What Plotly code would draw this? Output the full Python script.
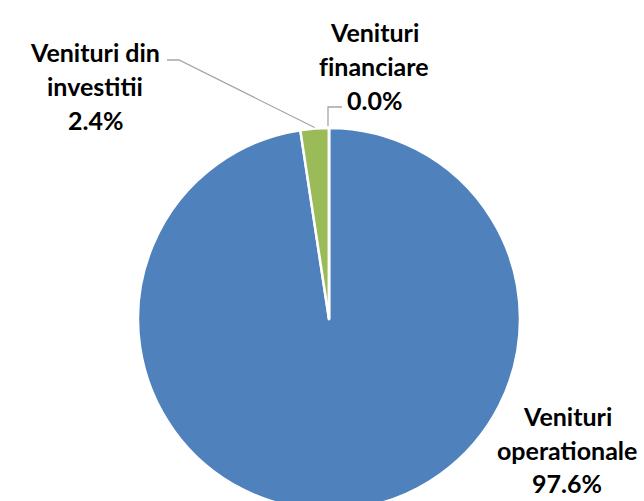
import math
import plotly.graph_objects as go

# ---- data ----
labels = ["Venituri operationale", "Venituri din investitii", "Venituri financiare"]
values = [97.6, 2.4, 0.0]
colors = ["#4F81BD", "#9BBB59", "#C0504D"]
label_lines = [
    ["Venituri", "operationale", "97.6%"],
    ["Venituri din", "investitii", "2.4%"],
    ["Venituri", "f\u200cinanciare", "0.0%"],
]

# ---- layout geometry (pixels) ----
W, H = 644, 520
CX, CY, R = 329, 319, 191
FONT = "Lato"
FS = 25
TEXT_COLOR = "#000000"


def px(x):
    return x / W


def py(y):
    return 1 - y / H


fig = go.Figure(
    go.Pie(
        labels=labels,
        values=values,
        sort=False,
        direction="clockwise",
        rotation=0,
        marker=dict(colors=colors, line=dict(color="white", width=2.5)),
        textinfo="none",
        hoverinfo="label+percent",
        showlegend=False,
        domain=dict(x=[px(CX - R), px(CX + R)], y=[py(CY + R), py(CY - R)]),
    )
)

# label text positions (cap-centre of each line, pixels)
label_pos = [
    (567, [415, 449, 482]),
    (95, [51, 85, 119]),
    (374, [31, 65, 99]),
]

annotations = []
for lines, (lx, ys) in zip(label_lines, label_pos):
    for t, yy in zip(lines, ys):
        annotations.append(
            dict(
                x=px(lx), y=py(yy + 1), xref="paper", yref="paper",
                text=t, showarrow=False, xanchor="center", yanchor="middle",
                font=dict(family=FONT, size=FS, color=TEXT_COLOR, weight="bold"),
            )
        )

# leader lines, ending at the slice edges computed from the data
total = sum(values)
cum = 0.0
edge_pts = []
for v in values:
    mid = (cum + v / 2) / total * 2 * math.pi
    edge_pts.append((CX + R * math.sin(mid), CY - R * math.cos(mid)))
    cum += v

shapes = []
# investitii: horizontal from text, then diagonal down to slice
ex, ey = edge_pts[1]
shapes.append(dict(type="path", xref="paper", yref="paper",
                   path=f"M {px(167)},{py(60)} L {px(179)},{py(60)} L {px(ex)},{py(ey - 1)}",
                   line=dict(color="#A6A6A6", width=1.3)))
# financiare: horizontal then vertical down
ex, ey = edge_pts[2]
shapes.append(dict(type="path", xref="paper", yref="paper",
                   path=f"M {px(342)},{py(107)} L {px(ex - 1)},{py(107)} L {px(ex - 1)},{py(ey - 2)}",
                   line=dict(color="#A6A6A6", width=1.3)))

fig.update_layout(
    width=W, height=H,
    margin=dict(l=0, r=0, t=0, b=0),
    paper_bgcolor="white",
    plot_bgcolor="white",
    annotations=annotations,
    shapes=shapes,
)

fig.write_html(
    "out.html",
    config={"displayModeBar": False},
    post_script="document.body.style.margin='0';document.body.style.overflow='hidden';document.documentElement.style.overflow='hidden';",
)
